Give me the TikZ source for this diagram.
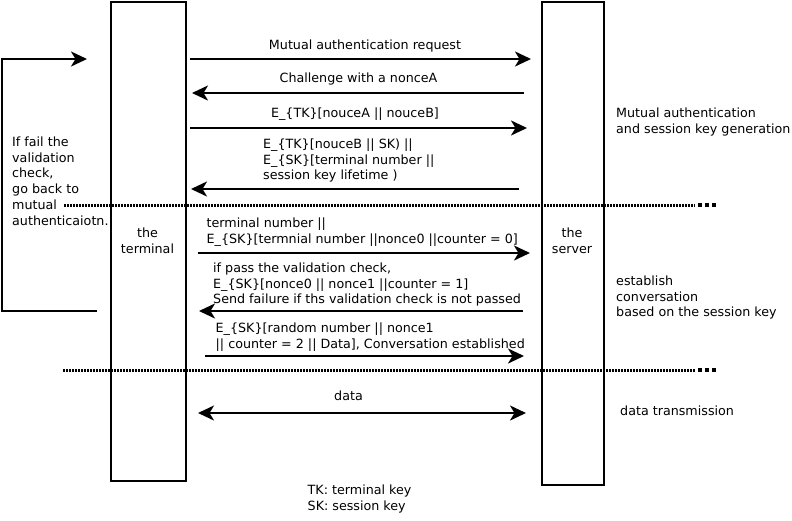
\documentclass[tikz,border=0pt]{standalone}
\usepackage{fontspec}
\setmainfont{DejaVu Sans}
\usetikzlibrary{arrows.meta}
\tikzset{
  lifeline/.style={draw, line width=2.2pt, minimum width=#1, inner sep=0pt},
  tip/.tip={Stealth[length=16pt,width=15pt,inset=4.5pt]},
  msg/.style={line width=2.2pt, -tip},
  dmsg/.style={line width=2.2pt, tip-tip},
  lbl/.style={inner sep=0pt, font=\fontsize{12.7pt}{15.8pt}\selectfont, align=left},
  sep/.style={line width=3pt, dash pattern=on 2pt off 1pt},
  sepend/.style={line width=3.5pt, dash pattern=on 4pt off 3pt},
}
\begin{document}
\begin{tikzpicture}[x=1pt,y=-1pt]
\useasboundingbox (0,0) rectangle (792,520);
% lifelines
\node[lifeline=75pt, minimum height=479pt, anchor=north west] (term) at (110,1) {};
\node[lifeline=62pt, minimum height=483pt, anchor=north west] (serv) at (541,1) {};
\node[lbl, align=center, anchor=north] (termlbl) at (147.5,227.4) {the\\terminal};
\node[lbl, align=center, anchor=north] (servlbl) at (572,227.4) {the\\server};
% separators
\coordinate (s1a) at (64,205); \coordinate (s1b) at (695,205);
\coordinate (s1c) at (698,205); \coordinate (s1d) at (716,205);
\coordinate (s2a) at (63,370); \coordinate (s2b) at (695,370);
\coordinate (s2c) at (698,370); \coordinate (s2d) at (716,370);
\draw[sep] (s1a) -- (s1b);
\draw[sepend] (s1c) -- (s1d);
\draw[sep] (s2a) -- (s2b);
\draw[sepend] (s2c) -- (s2d);
% loop back
\coordinate (l1) at (97,311); \coordinate (l2) at (2,311); \coordinate (l3) at (2,59); \coordinate (l4) at (87,59);
\draw[msg, line join=miter] (l1) -- (l2) -- (l3) -- (l4);
\node[lbl, anchor=north west] (fail) at (12,136.4) {If fail the\\validation\\check,\\go back to\\mutual\\authenticaiotn.};
% messages
\coordinate (m1a) at (190,59); \coordinate (m1b) at (531,59);
\draw[msg] (m1a) -- (m1b);
\node[lbl, anchor=base] (t1) at (365,49) {Mutual authentication request};
\coordinate (m2a) at (524,93); \coordinate (m2b) at (192,93);
\draw[msg] (m2a) -- (m2b);
\node[lbl, anchor=base] (t2) at (358.5,82) {Challenge with a nonceA};
\coordinate (m3a) at (190,128); \coordinate (m3b) at (527,128);
\draw[msg] (m3a) -- (m3b);
\node[lbl, anchor=base] (t3) at (355,117) {E\_\{TK\}[nouceA || nouceB]};
\coordinate (m4a) at (519,189); \coordinate (m4b) at (191,189);
\draw[msg] (m4a) -- (m4b);
\node[lbl, anchor=north west] (t4) at (263,138.4) {E\_\{TK\}[nouceB || SK) ||\\E\_\{SK\}[terminal number ||\\session key lifetime )};
\coordinate (m5a) at (198,253); \coordinate (m5b) at (530,253);
\draw[msg] (m5a) -- (m5b);
\node[lbl, anchor=north west] (t5) at (206.5,217.4) {terminal number ||\\E\_\{SK\}[termnial number ||nonce0 ||counter = 0]};
\coordinate (m6a) at (523,311); \coordinate (m6b) at (199,311);
\draw[msg] (m6a) -- (m6b);
\node[lbl, anchor=north west] (t6) at (213,262.4) {if pass the validation check,\\E\_\{SK\}[nonce0 || nonce1 ||counter = 1]\\Send failure if ths validation check is not passed};
\coordinate (m7a) at (205,356); \coordinate (m7b) at (524,356);
\draw[msg] (m7a) -- (m7b);
\node[lbl, anchor=north west] (t7) at (215.5,322.4) {E\_\{SK\}[random number || nonce1\\|| counter = 2 || Data], Conversation established};
\coordinate (m8a) at (198,413); \coordinate (m8b) at (526,413);
\draw[dmsg] (m8a) -- (m8b);
\node[lbl, anchor=base] (t8) at (348.5,400) {data};
% phase labels
\node[lbl, anchor=north west] (p1) at (616,107.4) {Mutual authentication\\and session key generation};
\node[lbl, anchor=north west] (p2) at (616,275.4) {establish\\conversation\\based on the session key};
\node[lbl, anchor=base west] (p3) at (620,415) {data transmission};
% legend
\node[lbl, anchor=north west] (legend) at (307.5,484.4) {TK: terminal key\\SK: session key};
\end{tikzpicture}
\end{document}
